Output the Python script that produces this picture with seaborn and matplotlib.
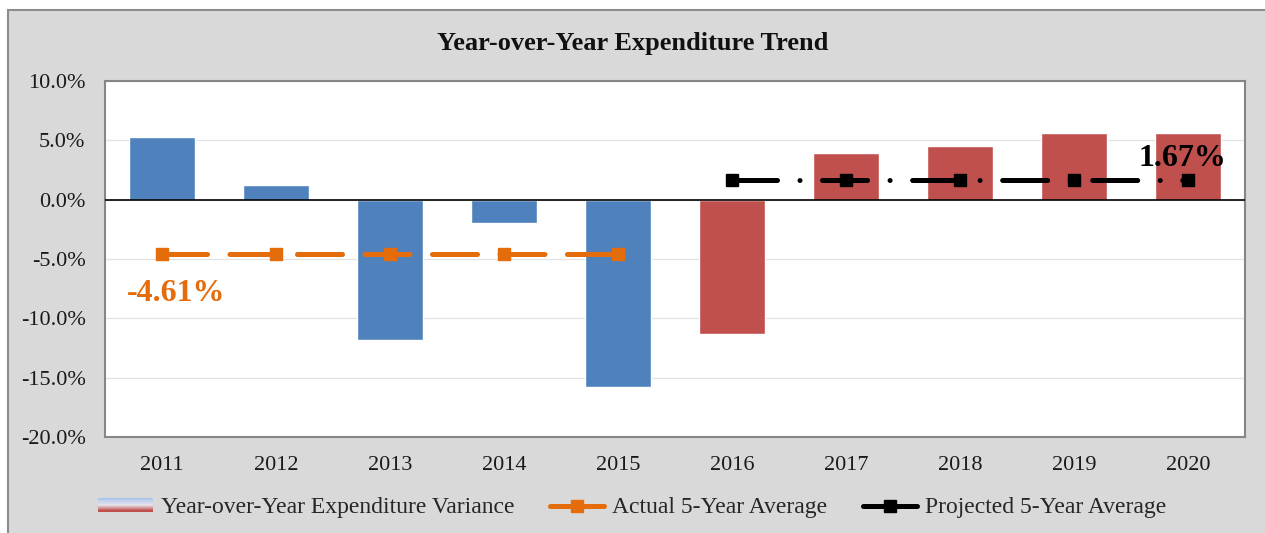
import matplotlib
matplotlib.use("Agg")
import matplotlib.pyplot as plt
import seaborn as sns
import numpy as np
import pandas as pd
from matplotlib.patches import Rectangle
from matplotlib.lines import Line2D
from matplotlib.legend_handler import HandlerBase
from matplotlib.colors import to_rgb

years = ["2011", "2012", "2013", "2014", "2015", "2016", "2017", "2018", "2019", "2020"]
variance = [5.3, 1.25, -11.8, -1.95, -15.75, -11.35, 3.95, 4.55, 5.65, 5.65]
actual_years = ["2011", "2012", "2013", "2014", "2015"]
actual_avg = [-4.61, -4.61, -4.61, -4.61, -4.61]
proj_years = ["2016", "2017", "2018", "2019", "2020"]
proj_avg = [1.67, 1.67, 1.67, 1.67, 1.67]
y_ticks = [10, 5, 0, -5, -10, -15, -20]

BLUE = "#4F81BD"
RED = "#C0504D"
ORANGE = "#E46C0A"
GRAY_BG = "#D9D9D9"

sns.set_theme(style="white")
plt.rcParams["font.family"] = ["Liberation Serif", "DejaVu Serif"]

fig = plt.figure(figsize=(12.65, 5.33), dpi=100)
fig.patch.set_facecolor("white")
fig.patches.append(Rectangle((8 / 1265, -0.05), 1.1, (533 - 10) / 533 + 0.05,
                             transform=fig.transFigure, facecolor=GRAY_BG,
                             edgecolor="#8C8C8C", linewidth=1.5, zorder=-10))

ax = fig.add_axes([105 / 1265, (533 - 437) / 533, 1140 / 1265, 356 / 533])
ax.set_facecolor("white")

df = pd.DataFrame({"year": years, "value": variance})
colors = [BLUE] * 5 + [RED] * 5
sns.barplot(data=df, x="year", y="value", hue="year", palette=colors, order=years,
            legend=False, width=0.58, ax=ax, zorder=2, saturation=1)

pos = {y: i for i, y in enumerate(years)}
ax.plot([pos[y] for y in actual_years], actual_avg, color=ORANGE, lw=3.6,
        dashes=(9, 4.5), dash_capstyle="round", marker="s", markersize=8,
        zorder=4)
ax.plot([pos[y] for y in proj_years], proj_avg, color="black", lw=3.6,
        dashes=(9, 4.5, 0.01, 4.5), dash_capstyle="round", marker="s",
        markersize=8, zorder=4)

ax.text(pos["2011"] + 0.12, -7.9, "-4.61%", color=ORANGE, fontsize=23,
        fontweight="bold", ha="center", va="center", zorder=5)
ax.text(pos["2020"] - 0.05, 3.5, "1.67%", color="black", fontsize=23,
        fontweight="bold", ha="center", va="center", zorder=5)

ax.set_ylim(-20, 10)
ax.set_xlim(-0.5, 9.5)
ax.set_yticks(y_ticks)
ax.set_yticklabels([f"{v:.1f}%" for v in y_ticks])
ax.yaxis.grid(True, color="#E3E3E3", lw=0.9, zorder=0)
ax.set_axisbelow(True)
ax.axhline(0, color="black", lw=1.2, zorder=3)
ax.set_xlabel("")
ax.set_ylabel("")
ax.tick_params(axis="both", length=0, labelsize=16, colors="#1A1A1A")
ax.tick_params(axis="x", pad=14)
ax.tick_params(axis="y", pad=14)
for s in ax.spines.values():
    s.set_color("#868686")
    s.set_linewidth(1.5)

fig.text(0.5, (533 - 43) / 533, "Year-over-Year Expenditure Trend", ha="center",
         va="center", fontsize=19, fontweight="bold", color="#111111")


class GradientHandler(HandlerBase):
    def create_artists(self, legend, orig_handle, xdescent, ydescent, width,
                       height, fontsize, trans):
        top = np.array(to_rgb("#A9C4EB"))
        mid = np.array(to_rgb("#E8E4EC"))
        bot = np.array(to_rgb("#C0504D"))
        n = 12
        arts = []
        for i in range(n):
            t = i / (n - 1)
            if t < 0.5:
                c = top + (mid - top) * (t / 0.5)
            else:
                c = mid + (bot - mid) * ((t - 0.5) / 0.5)
            y0 = -ydescent + height * (1 - (i + 1) / n)
            r = Rectangle((-xdescent, y0), width, height / n + 0.2,
                          facecolor=c, edgecolor="none", transform=trans)
            arts.append(r)
        return arts


class GradKey:
    pass


handles = [GradKey(),
           Line2D([], [], color=ORANGE, lw=3.6, marker="s", markersize=8,
                  solid_capstyle="round"),
           Line2D([], [], color="black", lw=3.6, marker="s", markersize=8,
                  solid_capstyle="round")]
labels = ["Year-over-Year Expenditure Variance", "Actual 5-Year Average",
          "Projected 5-Year Average"]
fig.legend(handles, labels, handler_map={GradKey: GradientHandler()},
           loc="center", bbox_to_anchor=(0.5, (533 - 508) / 533), ncol=3,
           frameon=False, fontsize=17, handlelength=2.3, handleheight=0.5,
           columnspacing=1.5, handletextpad=0.35)

fig.savefig("out.png", dpi=100)
